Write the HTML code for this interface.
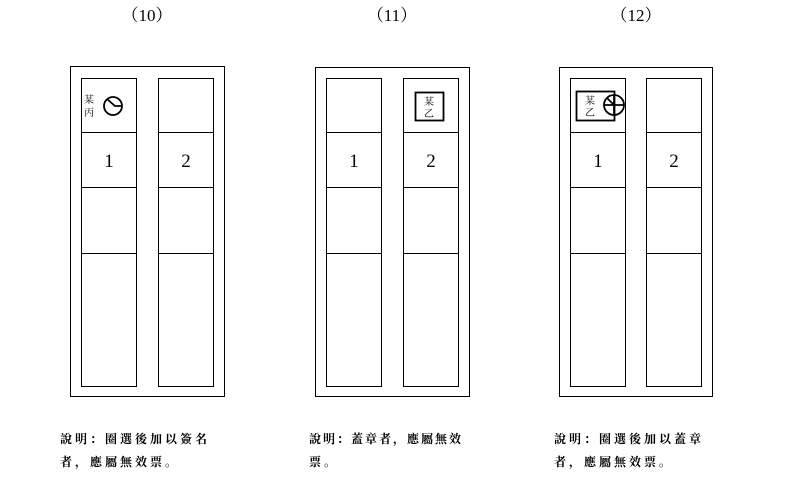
<!DOCTYPE html>
<html><head><meta charset="utf-8"><style>
html,body{margin:0;padding:0;background:#fff;}
svg{display:block}
text{font-family:"Liberation Serif","Noto Serif CJK SC",serif;fill:#000}
.c{font-family:"Liberation Sans","Noto Sans CJK TC",sans-serif}
</style></head><body>
<svg width="790" height="479" viewBox="0 0 790 479" xmlns="http://www.w3.org/2000/svg">
<g fill="none" stroke="#000" stroke-width="1">
 <rect x="70.5" y="66.5" width="154" height="330"/>
 <rect x="81.5" y="78.5" width="55" height="308"/>
 <rect x="158.5" y="78.5" width="55" height="308"/>
 <path d="M81 132.5H136M81 187.5H136M81 253.5H136M158 132.5H213M158 187.5H213M158 253.5H213"/>
 <rect x="315.5" y="67.5" width="154" height="329"/>
 <rect x="326.5" y="78.5" width="55" height="308"/>
 <rect x="403.5" y="78.5" width="55" height="308"/>
 <path d="M326 132.5H381M326 187.5H381M326 253.5H381M403 132.5H458M403 187.5H458M403 253.5H458"/>
 <rect x="559.5" y="67.5" width="153" height="329"/>
 <rect x="570.5" y="78.5" width="55" height="308"/>
 <rect x="646.5" y="78.5" width="55" height="308"/>
 <path d="M570 132.5H625M570 187.5H625M570 253.5H625M646 132.5H701M646 187.5H701M646 253.5H701"/>
</g>
<g fill="none" stroke="#000" stroke-width="1.8">
 <circle cx="113" cy="106" r="9"/>
 <path d="M107 99L115 106H122"/>
 <rect x="415.5" y="92.5" width="28" height="28"/>
 <rect x="576.5" y="91.5" width="38" height="29"/>
 <circle cx="614" cy="105" r="10"/>
 <path d="M604 105H624M614 95V115M607 98L614 105"/>
</g>
<g class="c" font-size="10">
 <text x="84" y="103">某</text><text x="84" y="116">丙</text>
 <text x="424" y="105">某</text><text x="424" y="117">乙</text>
 <text x="585" y="104">某</text><text x="585" y="116">乙</text>
</g>
<g font-size="19" text-anchor="middle">
 <text x="109" y="167">1</text><text x="186" y="167">2</text>
 <text x="354" y="167">1</text><text x="431" y="167">2</text>
 <text x="598" y="167">1</text><text x="674" y="167">2</text>
</g>
<g font-size="17" text-anchor="middle">
 <text x="147" y="21">（10）</text>
 <text x="392" y="21">（11）</text>
 <text x="636" y="21">（12）</text>
</g>
<g class="c" font-size="12" font-weight="bold" letter-spacing="3">
 <text x="60" y="443">說明：圈選後加以簽名</text>
 <text x="60" y="466">者，應屬無效票。</text>
 <text x="309" y="443" letter-spacing="2">說明：蓋章者，應屬無效</text>
 <text x="309" y="466">票。</text>
 <text x="554" y="443">說明：圈選後加以蓋章</text>
 <text x="554" y="466">者，應屬無效票。</text>
</g>
</svg>
</body></html>
